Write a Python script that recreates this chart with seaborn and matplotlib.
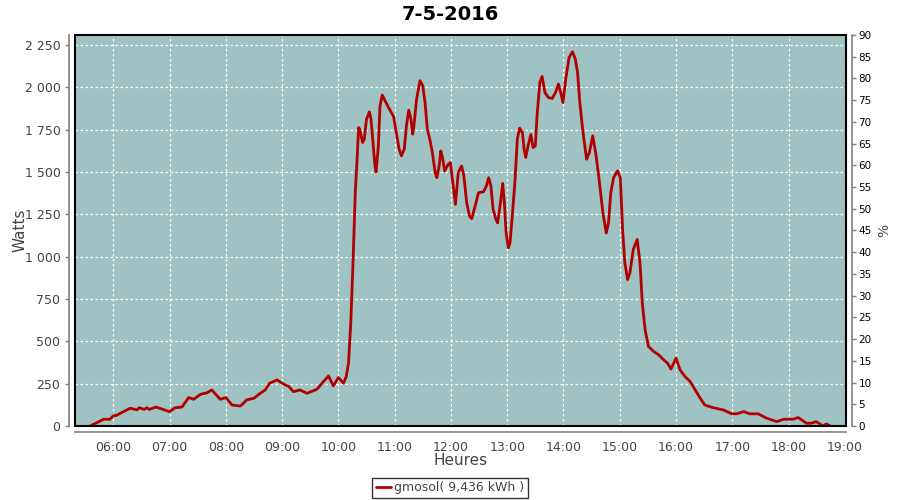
import numpy as np
import pandas as pd
import matplotlib
matplotlib.use('Agg')
import matplotlib.pyplot as plt
import seaborn as sns
from matplotlib.ticker import FuncFormatter, MultipleLocator
from matplotlib.patches import Rectangle

# decimal hours / watts
hours = [5.59, 5.83, 5.94, 6.0, 6.05, 6.3, 6.42, 6.46, 6.55, 6.6, 6.64, 6.76,
         7.0, 7.1, 7.22, 7.34, 7.43, 7.55, 7.67, 7.75, 7.9, 8.0, 8.11, 8.26,
         8.37, 8.5, 8.61, 8.7, 8.78, 8.91, 9.03, 9.12, 9.2, 9.32, 9.44, 9.62,
         9.71, 9.825, 9.91, 10.0, 10.09, 10.14, 10.18, 10.22, 10.26, 10.28, 10.3, 10.33,
         10.36, 10.38, 10.43, 10.46, 10.5, 10.55, 10.58, 10.62, 10.65, 10.67, 10.71, 10.74,
         10.78, 10.83, 10.89, 10.98, 11.04, 11.08, 11.12, 11.17, 11.21, 11.25, 11.29, 11.32,
         11.34, 11.39, 11.45, 11.5, 11.54, 11.58, 11.63, 11.67, 11.72, 11.75, 11.79, 11.82,
         11.85, 11.89, 11.95, 11.99, 12.04, 12.08, 12.13, 12.19, 12.23, 12.28, 12.33, 12.37,
         12.43, 12.49, 12.58, 12.63, 12.67, 12.71, 12.75, 12.8, 12.83, 12.88, 12.92, 12.95,
         12.98, 13.02, 13.05, 13.09, 13.14, 13.18, 13.22, 13.27, 13.3, 13.33, 13.37, 13.42,
         13.46, 13.5, 13.53, 13.58, 13.62, 13.67, 13.73, 13.8, 13.86, 13.91, 13.95, 13.99,
         14.04, 14.1, 14.16, 14.21, 14.25, 14.29, 14.34, 14.41, 14.46, 14.52, 14.58, 14.64,
         14.7, 14.76, 14.8, 14.84, 14.89, 14.96, 15.01, 15.05, 15.09, 15.14, 15.18, 15.24,
         15.31, 15.36, 15.4, 15.45, 15.51, 15.6, 15.69, 15.78, 15.85, 15.91, 16.0, 16.07,
         16.16, 16.25, 16.34, 16.43, 16.51, 16.66, 16.84, 16.99, 17.08, 17.2, 17.31, 17.46,
         17.61, 17.79, 17.91, 18.08, 18.17, 18.32, 18.4, 18.49, 18.61, 18.67, 18.74]
watts = [0, 40, 40, 60, 62, 105, 95, 108, 98, 108, 98, 112,
         85, 108, 112, 168, 158, 187, 197, 213, 158, 168, 124, 118,
         154, 164, 193, 213, 253, 272, 247, 233, 203, 213, 193, 217,
         253, 296, 237, 286, 253, 292, 371, 608, 964, 1181, 1378, 1560,
         1763, 1754, 1675, 1695, 1813, 1856, 1813, 1655, 1536, 1501, 1655, 1892,
         1955, 1921, 1882, 1829, 1714, 1635, 1596, 1635, 1773, 1866, 1813, 1724,
         1764, 1931, 2040, 2010, 1911, 1754, 1685, 1616, 1497, 1467, 1536, 1625,
         1586, 1507, 1546, 1556, 1418, 1309, 1497, 1536, 1477, 1319, 1240, 1225,
         1300, 1378, 1384, 1418, 1467, 1418, 1280, 1220, 1200, 1319, 1433, 1319,
         1141, 1053, 1082, 1240, 1457, 1695, 1760, 1734, 1635, 1586, 1655, 1722,
         1645, 1655, 1833, 2030, 2065, 1971, 1941, 1935, 1971, 2020, 1971, 1911,
         2050, 2178, 2211, 2168, 2090, 1911, 1754, 1576, 1616, 1714, 1596, 1437,
         1260, 1141, 1200, 1378, 1467, 1507, 1467, 1161, 964, 865, 905, 1043,
         1102, 964, 727, 569, 470, 441, 421, 391, 371, 336, 401, 332,
         292, 263, 213, 164, 124, 108, 95, 72, 72, 85, 72, 72,
         46, 26, 40, 40, 50, 16, 16, 26, 0, 12, 0]

title = '7-5-2016'
series_label = 'gmosol( 9,436 kWh )'
hour_ticks = list(range(6, 20))

df = pd.DataFrame({'Heures': hours, 'Watts': watts})

sns.set_style('white')
plt.rcParams['font.family'] = ['DejaVu Sans']

fig = plt.figure(figsize=(9, 5), dpi=100)
ax = fig.add_axes([75 / 900, 74 / 500, 771 / 900, 391 / 500])
ax.set_facecolor('#9ec3c2')

sns.lineplot(data=df, x='Heures', y='Watts', ax=ax, color='#b20000',
             linewidth=2, label=series_label, legend=False)

ax.set_xlim(5.32, 19.02)
ax.set_ylim(0, 2310)
ax.set_xticks(hour_ticks)
ax.xaxis.set_major_formatter(FuncFormatter(lambda v, p: '%02d:00' % int(round(v))))
ax.yaxis.set_major_locator(MultipleLocator(250))
ax.yaxis.set_major_formatter(FuncFormatter(lambda v, p: '{:,.0f}'.format(v).replace(',', ' ')))
ax.grid(True, color='white', linestyle=(0, (2, 2)), linewidth=0.9)

grey = '#808080'
for s in ['top', 'right']:
    ax.spines[s].set_visible(False)
for s in ['left', 'bottom']:
    ax.spines[s].set_position(('outward', 4))
    ax.spines[s].set_color(grey)
    ax.spines[s].set_linewidth(1.2)
ax.tick_params(axis='both', colors=grey, length=3, width=1, labelsize=9,
               labelcolor='#444444')
ax.add_patch(Rectangle((0, 0), 1, 1, transform=ax.transAxes, fill=False,
                       edgecolor='black', linewidth=1.5, clip_on=False, zorder=5))

ax.set_xlabel('Heures', fontsize=11, color='#444444')
ax.set_ylabel('Watts', fontsize=11, color='#444444')
ax.xaxis.set_label_coords(0.5, -0.068)
ax.yaxis.set_label_coords(-0.062, 0.5)

ax2 = ax.twinx()
ax2.set_ylim(0, 90)
ax2.yaxis.set_major_locator(MultipleLocator(5))
for s in ['top', 'left', 'bottom']:
    ax2.spines[s].set_visible(False)
ax2.spines['right'].set_position(('outward', 4))
ax2.spines['right'].set_color(grey)
ax2.spines['right'].set_linewidth(1.2)
ax2.tick_params(axis='y', colors=grey, length=3, width=1, labelsize=7.5,
                labelcolor='black', pad=2)
ax2.set_ylabel('%', fontsize=10, color='#444444')
ax2.yaxis.set_label_coords(1.04, 0.5)

fig.text(0.5, 0.972, title, ha='center', va='center', fontsize=14,
         fontweight='bold', color='black')

h, l = ax.get_legend_handles_labels()
fig.legend(h, l, loc='center', bbox_to_anchor=(0.5, 0.024), frameon=True,
           fancybox=False, edgecolor='black', fontsize=9, handlelength=1.2,
           handletextpad=0.3, borderpad=0.3, labelcolor='#444444')

fig.savefig('out.png', dpi=100)
